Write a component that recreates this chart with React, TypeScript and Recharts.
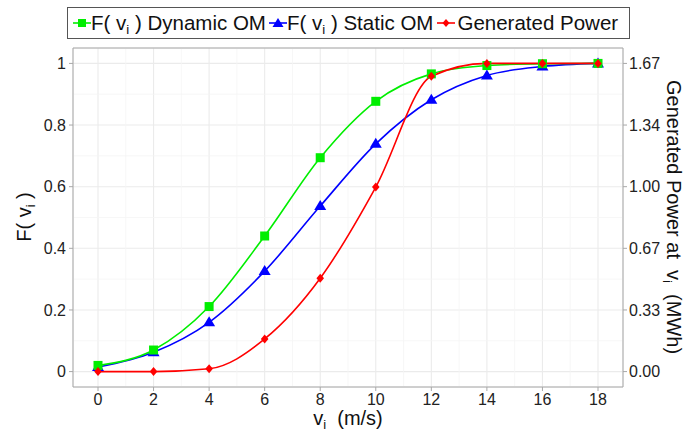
import React from "react";
import { LineChart, Line, XAxis, YAxis, CartesianGrid, ReferenceLine } from "recharts";

const windSpeed = [0, 2, 4, 6, 8, 10, 12, 14, 16, 18];
const dynamicOM = [0.02, 0.07, 0.211, 0.44, 0.694, 0.877, 0.966, 0.993, 0.999, 1.0];
const staticOM = [0.015, 0.063, 0.16, 0.326, 0.537, 0.739, 0.882, 0.961, 0.99, 1.0];
const generatedPower = [0, 0, 0.015, 0.177, 0.506, 1.0, 1.6, 1.67, 1.67, 1.67];

const xTicks = [0, 2, 4, 6, 8, 10, 12, 14, 16, 18];
const xMinor = [1, 3, 5, 7, 9, 11, 13, 15, 17];
const fTicks = [0, 0.2, 0.4, 0.6, 0.8, 1];
const fMinor = [0.1, 0.3, 0.5, 0.7, 0.9];
const powerTicks = [0, 0.334, 0.668, 1.002, 1.336, 1.67];

const data = windSpeed.map((v, i) => ({
  v,
  dynamic: dynamicOM[i],
  static: staticOM[i],
  power: generatedPower[i],
}));

const GREEN = "#00ee00";
const BLUE = "#0000ff";
const RED = "#ff0000";
const FONT = "'Liberation Sans', Arial, sans-serif";
const AXIS = "#a8a8a8";

const Square = (p: any) => (
  <rect key={`s${p.index}`} x={p.cx - 4.5} y={p.cy - 4.5} width={9} height={9} fill={GREEN} />
);
const Triangle = (p: any) => (
  <path key={`t${p.index}`} d={`M${p.cx},${p.cy - 6}L${p.cx + 6},${p.cy + 4}L${p.cx - 6},${p.cy + 4}Z`} fill={BLUE} />
);
const Diamond = (p: any) => (
  <path key={`d${p.index}`} d={`M${p.cx},${p.cy - 4.5}L${p.cx + 3.8},${p.cy}L${p.cx},${p.cy + 4.5}L${p.cx - 3.8},${p.cy}Z`} fill={RED} />
);

const Sub = () => <sub style={{ fontSize: "0.65em", verticalAlign: "-0.3em", lineHeight: 0 }}>i</sub>;

function LegendKey({ color, shape }: { color: string; shape: string }) {
  return (
    <svg width={18} height={12} style={{ display: "block", flex: "none" }}>
      <line x1={0} y1={6} x2={18} y2={6} stroke={color} strokeWidth={1.6} />
      {shape === "square" && <rect x={5} y={2} width={8} height={8} fill={color} />}
      {shape === "triangle" && <path d="M9,1L14.5,10L3.5,10Z" fill={color} />}
      {shape === "diamond" && <path d="M9,2L12.5,6L9,10L5.5,6Z" fill={color} />}
    </svg>
  );
}

export default function App() {
  const tick = { fontSize: 16, fill: "#222", fontFamily: FONT };
  return (
    <div style={{ position: "absolute", left: 0, top: 0, width: 686, height: 439, background: "#fff", fontFamily: FONT }}>
      <LineChart width={686} height={439} data={data} margin={{ top: 48, right: 0, bottom: 0, left: 0 }}>
        <CartesianGrid yAxisId="left" stroke="#ebebeb" strokeWidth={1.1} />
        {xMinor.map((x) => (
          <ReferenceLine key={`mx${x}`} yAxisId="left" x={x} stroke="#f5f5f5" strokeWidth={0.8} />
        ))}
        {fMinor.map((y) => (
          <ReferenceLine key={`my${y}`} yAxisId="left" y={y} stroke="#f5f5f5" strokeWidth={0.8} />
        ))}
        <ReferenceLine yAxisId="left" y={1.05} stroke={AXIS} strokeWidth={1} />
        <XAxis
          type="number"
          dataKey="v"
          domain={[-0.9, 18.9]}
          ticks={xTicks}
          allowDataOverflow
          height={52}
          tickSize={4}
          tickMargin={3}
          tick={tick}
          axisLine={{ stroke: AXIS }}
          tickLine={{ stroke: AXIS }}
        />
        <YAxis
          yAxisId="left"
          type="number"
          domain={[-0.05, 1.05]}
          ticks={fTicks}
          allowDataOverflow
          width={73}
          tickSize={4}
          tickMargin={3}
          tick={tick}
          axisLine={{ stroke: AXIS }}
          tickLine={{ stroke: AXIS }}
        />
        <YAxis
          yAxisId="right"
          orientation="right"
          type="number"
          domain={[-0.0835, 1.7535]}
          ticks={powerTicks}
          allowDataOverflow
          width={63}
          tickSize={4}
          tickMargin={2}
          tick={tick}
          tickFormatter={(v: number) => v.toFixed(2)}
          axisLine={{ stroke: AXIS }}
          tickLine={{ stroke: AXIS }}
        />
        <Line yAxisId="left" type="monotone" dataKey="static" stroke={BLUE} strokeWidth={1.6} dot={Triangle} activeDot={false} isAnimationActive={false} />
        <Line yAxisId="left" type="monotone" dataKey="dynamic" stroke={GREEN} strokeWidth={1.6} dot={Square} activeDot={false} isAnimationActive={false} />
        <Line yAxisId="right" type="monotone" dataKey="power" stroke={RED} strokeWidth={1.6} dot={Diamond} activeDot={false} isAnimationActive={false} />
      </LineChart>

      <div
        style={{
          position: "absolute", left: 67, top: 7, width: 563, height: 32, boxSizing: "border-box",
          border: "1px solid #555", display: "flex", alignItems: "center", paddingLeft: 5,
          fontSize: 20.5, color: "#111", whiteSpace: "nowrap",
        }}
      >
        <LegendKey color={GREEN} shape="square" />
        <span style={{ marginRight: 3 }}>F( v<Sub /> ) Dynamic OM</span>
        <LegendKey color={BLUE} shape="triangle" />
        <span style={{ marginRight: 4 }}>F( v<Sub /> ) Static OM</span>
        <LegendKey color={RED} shape="diamond" />
        <span style={{ marginLeft: 2 }}>Generated Power</span>
      </div>

      <div style={{ position: "absolute", left: 24, top: 217, transform: "translate(-50%,-50%) rotate(-90deg)", fontSize: 20, lineHeight: 1, whiteSpace: "nowrap", color: "#111" }}>
        F( v<Sub /> )
      </div>
      <div style={{ position: "absolute", left: 674, top: 217, transform: "translate(-50%,-50%) rotate(90deg)", fontSize: 20, lineHeight: 1, whiteSpace: "nowrap", color: "#111" }}>
        Generated Power at &nbsp;v<Sub /> &nbsp;(MWh)
      </div>
      <div style={{ position: "absolute", left: 348, top: 418, transform: "translate(-50%,-50%)", fontSize: 20, lineHeight: 1, whiteSpace: "nowrap", color: "#111" }}>
        v<Sub /> &nbsp;(m/s)
      </div>
    </div>
  );
}
